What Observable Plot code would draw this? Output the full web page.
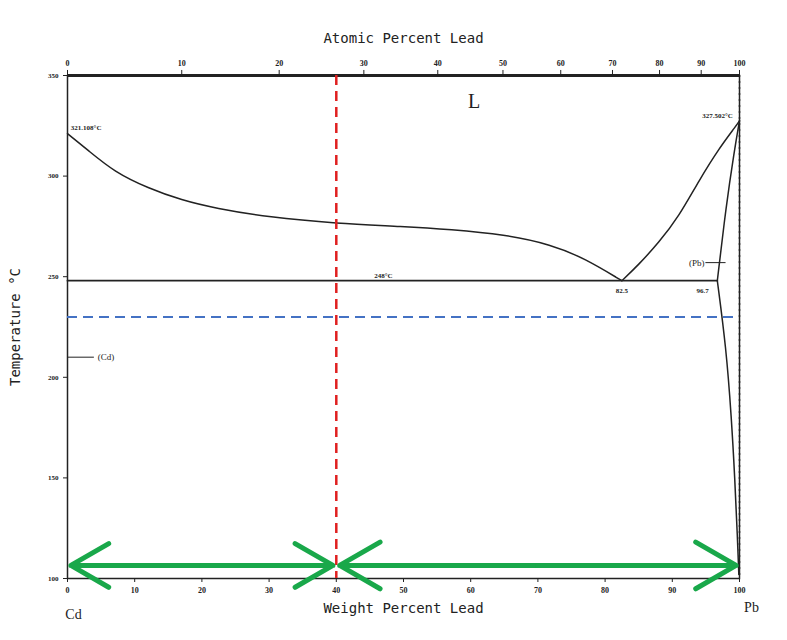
<!DOCTYPE html>
<html>
<head>
<meta charset="utf-8">
<script src="https://cdn.jsdelivr.net/npm/d3@7"></script>
<script src="https://cdn.jsdelivr.net/npm/@observablehq/plot@0.6"></script>
<style>
  body { margin: 0; background: #fff; }
  svg { font-family: "Liberation Serif", serif; }
</style>
</head>
<body>
<div id="chart"></div>
<script>
// Liquidus, Cd side (wt% Pb, °C)
const liquidusCd = [
  [0, 321.1], [3, 313], [7, 302], [12, 294], [17, 288], [22, 284], [30, 279.5],
  [40, 276.5], [50, 275], [57, 273.5], [65, 271], [72, 266], [77, 259], [82.5, 248]
];
// Liquidus, Pb side
const liquidusPb = [
  [82.5, 248], [85, 256], [88, 267], [91, 280], [94, 298], [97, 314], [99.5, 325], [100, 327.5]
];
// Pb solidus and solvus
const solidusPb = [[96.7, 248], [98, 285], [99.2, 312], [100, 327.5]];
const solvusPb = [[96.7, 248], [98, 215], [98.8, 180], [99.3, 150], [99.7, 120], [99.9, 102]];
const eutectic = [[0, 248], [96.7, 248]];
// Atomic percent ticks placed at their weight percent
const atomicLabels = [0, 10, 20, 30, 40, 50, 60, 70, 80, 90, 100];
const atomicAtWt = [0, 17, 31.5, 44.1, 55.1, 64.8, 73.4, 81.1, 88.1, 94.3, 100];
const tempTicks = [100, 150, 200, 250, 300, 350];
const wtTicks = [0, 10, 20, 30, 40, 50, 60, 70, 80, 90, 100];
const selectedWt = 40;
const lineTemp = 230;
const arrowTemp = 106.5;

const pts = (a) => a.map(([x, y]) => ({x, y}));
const ink = "#222";
const one = (x, y) => [{x, y}];

const chart = Plot.plot({
  width: 787,
  height: 640,
  marginLeft: 67,
  marginRight: 48,
  marginTop: 75,
  marginBottom: 62,
  x: {type: "linear", domain: [0, 100], label: null},
  y: {type: "linear", domain: [100, 350], label: null},
  marks: [
    Plot.frame({stroke: ink, strokeWidth: 1.5}),
    Plot.axisX({ticks: wtTicks, tickSize: 4, fontSize: 8, fontWeight: "bold", label: null, fill: ink, stroke: ink}),
    Plot.axisY({ticks: tempTicks, tickSize: 4, fontSize: 7, fontWeight: "bold", label: null, fill: ink, stroke: ink}),
    Plot.ruleY([350], {stroke: ink, strokeWidth: 3}),
    Plot.ruleX(atomicAtWt, {x: (d) => d, y1: 350, y2: 352.5, stroke: ink}),
    Plot.text(atomicAtWt, {x: (d) => d, y: () => 350, dy: -12, text: (d, i) => String(atomicLabels[i]), fontSize: 8, fontWeight: "bold", fill: ink}),
    Plot.line(pts(liquidusCd), {x: "x", y: "y", curve: "basis", stroke: ink, strokeWidth: 1.5}),
    Plot.line(pts(liquidusPb), {x: "x", y: "y", curve: "basis", stroke: ink, strokeWidth: 1.5}),
    Plot.line(pts(solidusPb), {x: "x", y: "y", curve: "basis", stroke: ink, strokeWidth: 1.5}),
    Plot.line(pts(solvusPb), {x: "x", y: "y", curve: "basis", stroke: ink, strokeWidth: 1.5}),
    Plot.line(pts(eutectic), {x: "x", y: "y", stroke: ink, strokeWidth: 1.8}),
    Plot.ruleX([100], {stroke: ink, strokeDasharray: "2,4", strokeWidth: 1.5}),
    Plot.ruleY([210], {x1: 0, x2: 4, stroke: ink}),
    Plot.text(one(4.5, 210), {x: "x", y: "y", text: () => "(Cd)", textAnchor: "start", fontSize: 9, fill: ink}),
    Plot.ruleY([257], {x1: 95, x2: 98, stroke: ink}),
    Plot.text(one(94.8, 257), {x: "x", y: "y", text: () => "(Pb)", textAnchor: "end", fontSize: 9, fill: ink}),
    Plot.text(one(0.5, 324), {x: "x", y: "y", text: () => "321.108°C", textAnchor: "start", fontSize: 7, fontWeight: "bold", fill: ink}),
    Plot.text(one(99, 330), {x: "x", y: "y", text: () => "327.502°C", textAnchor: "end", fontSize: 7, fontWeight: "bold", fill: ink}),
    Plot.text(one(60.5, 337), {x: "x", y: "y", text: () => "L", fontSize: 20, fill: ink}),
    Plot.text(one(47, 250.5), {x: "x", y: "y", text: () => "248°C", fontSize: 7, fontWeight: "bold", fill: ink}),
    Plot.text(one(82.5, 243), {x: "x", y: "y", text: () => "82.5", fontSize: 7, fontWeight: "bold", fill: ink}),
    Plot.text(one(94.5, 243), {x: "x", y: "y", text: () => "96.7", fontSize: 7, fontWeight: "bold", fill: ink}),
    Plot.ruleY([lineTemp], {stroke: "#4472c4", strokeWidth: 2, strokeDasharray: "10,6"}),
    Plot.ruleX([selectedWt], {stroke: "#e02020", strokeWidth: 2.5, strokeDasharray: "10,6"}),
    Plot.arrow([
      {x1: 20, x2: 0.5}, {x1: 20, x2: 39.5},
      {x1: 70, x2: 40.5}, {x1: 70, x2: 99.5}
    ], {x1: "x1", x2: "x2", y1: () => arrowTemp, y2: () => arrowTemp, stroke: "#19a84a", strokeWidth: 5, headLength: 14}),
    Plot.text(one(50, 350), {x: "x", y: "y", dy: -37, text: () => "Atomic Percent Lead", fontSize: 14, fontFamily: "DejaVu Sans Mono", fill: ink}),
    Plot.text(one(50, 100), {x: "x", y: "y", dy: 30, text: () => "Weight Percent Lead", fontSize: 14, fontFamily: "DejaVu Sans Mono", fill: ink}),
    Plot.text(one(0, 100), {x: "x", y: "y", dy: 36, dx: 6, text: () => "Cd", fontSize: 14, fill: ink}),
    Plot.text(one(100, 100), {x: "x", y: "y", dy: 29, dx: 12, text: () => "Pb", fontSize: 14, fill: ink}),
    Plot.text(one(0, 225), {x: "x", y: "y", dx: -52, rotate: -90, text: () => "Temperature °C", fontSize: 14, fontFamily: "DejaVu Sans Mono", fill: ink})
  ]
});

document.getElementById("chart").appendChild(chart);
</script>
</body>
</html>
